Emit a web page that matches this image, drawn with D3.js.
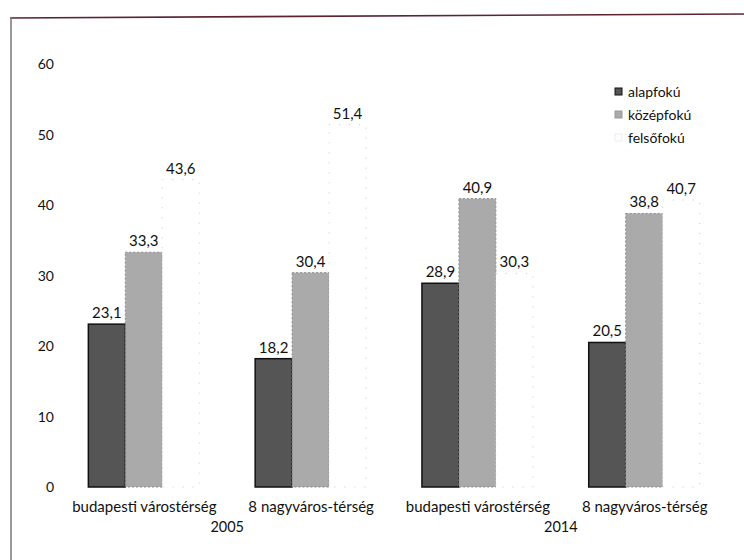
<!DOCTYPE html>
<html><head><meta charset="utf-8">
<script src="https://cdn.jsdelivr.net/npm/d3@7"></script>
<style>body{margin:0;background:#fff}svg{display:block}text{font-family:Lato,"Open Sans",sans-serif;fill:#111}</style>
</head><body>
<svg id="c" width="744" height="560"></svg>
<script>
const years = ["2005", "2014"];
const categories = ["budapesti várostérség", "8 nagyváros-térség", "budapesti várostérség", "8 nagyváros-térség"];
const categoryYear = ["2005", "2005", "2014", "2014"];
const seriesNames = ["alapfokú", "középfokú", "felsőfokú"];
const alapfoku = [23.1, 18.2, 28.9, 20.5];
const kozepfoku = [33.3, 30.4, 40.9, 38.8];
const felsofoku = [43.6, 51.4, 30.3, 40.7];
const yTicks = [0, 10, 20, 30, 40, 50, 60];

const series = [alapfoku, kozepfoku, felsofoku];
const fills = ["#555555", "#aaaaaa", "#ffffff"];
const strokes = ["#111111", "#8a8a8a", "#c8c8c8"];

const svg = d3.select("#c");
// frame
svg.append("line").attr("x1",10).attr("y1",18).attr("x2",744).attr("y2",14).attr("stroke","#5a2430").attr("stroke-width",1.6);
svg.append("line").attr("x1",11).attr("y1",17).attr("x2",11).attr("y2",560).attr("stroke","#777").attr("stroke-width",1.5);

const y = d3.scaleLinear().domain([0,60]).range([487,64]);
const idx = categories.map((d,i)=>i);
const x0 = d3.scaleBand().domain(idx).range([60,728]).paddingInner(0.335).paddingOuter(0.17);
const x1 = d3.scaleBand().domain([0,1,2]).range([0,x0.bandwidth()]);

// y axis labels
const yAxis = d3.axisLeft(y).tickValues(yTicks).tickSize(0).tickPadding(0).tickFormat(d3.format("d"));
const ga = svg.append("g").attr("transform","translate(54,0)").call(yAxis);
ga.select(".domain").remove();
ga.selectAll("text").style("font-size","14px").attr("dy","0.35em").attr("font-family","Lato").attr("fill","#111");

const groups = svg.selectAll("g.grp").data(idx).join("g").attr("class","grp")
  .attr("transform", i => `translate(${x0(i)},0)`);

series.forEach((vals, s) => {
  groups.append("rect")
    .attr("x", x1(s)).attr("width", x1.bandwidth())
    .attr("y", i => y(vals[i])).attr("height", i => y(0) - y(vals[i]))
    .attr("fill", fills[s]).attr("stroke", strokes[s])
    .attr("stroke-width", s===0?1.5:1)
    .attr("stroke-dasharray", s===0?null:(s===1?"2,2":"1,9"));
  groups.append("text")
    .attr("x", x1(s) + x1.bandwidth()/2).attr("y", i => y(vals[i]) - 6)
    .attr("text-anchor","middle").style("font-size","15px")
    .text(i => d3.format(".1f")(vals[i]).replace(".", ","));
});

// category axis
const xAxis = d3.axisBottom(d3.scaleOrdinal().domain(idx).range(idx.map(i=>x0(i)+x0.bandwidth()/2)))
  .tickSize(0).tickPadding(0).tickFormat(i => categories[i]);
const gx = svg.append("g").attr("transform","translate(0,507)").call(xAxis);
gx.select(".domain").remove();
gx.selectAll("text").style("font-size","15px").attr("dy","0.35em").attr("fill","#111");

years.forEach(yr => {
  const cs = idx.filter(i => categoryYear[i] === yr);
  const cx = d3.mean(cs, i => x0(i) + x0.bandwidth()/2);
  svg.append("text").attr("x", cx).attr("y", 532).attr("text-anchor","middle").style("font-size","14.5px").text(yr);
});

// legend
const lg = svg.append("g").attr("transform","translate(615,88)");
seriesNames.forEach((n, s) => {
  lg.append("rect").attr("x",0).attr("y", s*23).attr("width",7).attr("height",7)
    .attr("fill", fills[s]).attr("stroke", s===0?"#111":(s===1?"#999":"#eee")).attr("stroke-width",1);
  lg.append("text").attr("x",13).attr("y", s*23+8.5).style("font-size","14px").text(n);
});
</script>
</body></html>
